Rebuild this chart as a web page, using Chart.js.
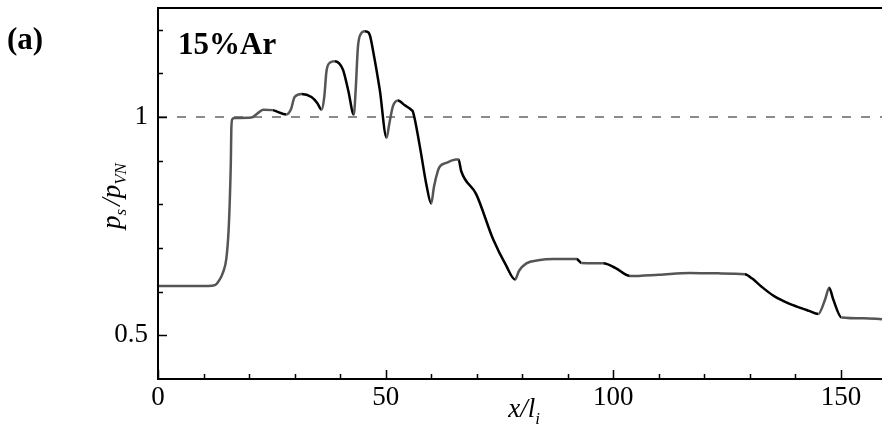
<!DOCTYPE html>
<html lang="en">
<head>
<meta charset="UTF-8">
<title>ps/pVN 15%Ar</title>
<script src="https://cdn.jsdelivr.net/npm/chart.js"></script>
<style>
  html, body { margin: 0; padding: 0; background: #fff; }
  #wrap { position: relative; width: 882px; height: 425px; }
</style>
</head>
<body>
<div id="wrap"><canvas id="psChart" width="882" height="425"></canvas></div>
<script>
// shock pressure along the wall
const xPos = [0, 11, 12.5, 13.5, 14.3, 15.0, 15.5, 15.8, 16.0, 16.1, 16.3, 16.8,
  20.5, 21.8, 23.1, 25.2, 28.2, 29.2, 30.0, 31.5, 33.7, 35.0, 35.9,
  36.5, 37.0, 37.8, 38.8, 40.6, 41.8, 43.0, 43.4, 43.9, 44.5, 45.4, 46.2, 46.6, 47.2,
  48.7, 50.2, 50.8, 51.6, 52.7, 54.2, 55.7, 56.0, 57.5, 59.0, 60.0,
  60.6, 61.5, 61.9, 63.3, 65.5, 66.0, 66.6, 69.9, 73.6, 76.5, 78.4,
  79.3, 80.9, 83.5, 86.8, 91.9, 93.0, 97.8, 100.5, 103.6, 110, 116.8, 123, 128.9,
  130.5, 132.5, 135, 137.5, 140.3, 143, 145, 146.5, 147.4, 148.3, 150.1, 155, 159];
const pRatio = [0.613, 0.613, 0.615, 0.627, 0.645, 0.675, 0.74, 0.82, 0.9, 0.97, 0.995, 0.998,
  0.999, 1.008, 1.017, 1.016, 1.006, 1.018, 1.046, 1.053, 1.046, 1.032, 1.017,
  1.045, 1.105, 1.125, 1.128, 1.109, 1.06, 1.006, 1.06, 1.16, 1.19, 1.197, 1.194, 1.185, 1.154,
  1.063, 0.953, 0.985, 1.025, 1.038, 1.027, 1.016, 1.012, 0.933, 0.842, 0.802,
  0.84, 0.878, 0.887, 0.895, 0.903, 0.903, 0.876, 0.823, 0.72, 0.659, 0.628,
  0.648, 0.665, 0.672, 0.675, 0.675, 0.666, 0.665, 0.654, 0.636, 0.639, 0.643, 0.642, 0.640,
  0.630, 0.612, 0.592, 0.578, 0.566, 0.556, 0.549, 0.582, 0.609, 0.582, 0.541, 0.539, 0.537];

const refX = [0, 159];
const refY = [1, 1];

const xMajor = [0, 50, 100, 150];
const xMajorLabels = ['0', '50', '100', '150'];
const xMinor = [10, 20, 30, 40, 60, 70, 80, 90, 110, 120, 130, 140];
const yMajor = [0.5, 1];
const yMajorLabels = ['0.5', '1'];
const yMinor = [0.6, 0.7, 0.8, 0.9, 1.1, 1.2];

const serif = '"Liberation Serif", "Times New Roman", serif';

function runs(ctx, parts, x, y) {
    // draw text pieces one after another, subscripts shifted down
    let w = 0;
    parts.forEach(p => { ctx.font = p.font; w += ctx.measureText(p.t).width + (p.gap || 0); });
    let cx = x - w / 2;
    parts.forEach(p => {
        ctx.font = p.font;
        ctx.fillText(p.t, cx, y + (p.dy || 0));
        cx += ctx.measureText(p.t).width + (p.gap || 0);
    });
}

const decor = {
    id: 'decor',
    afterDraw(chart) {
        const ctx = chart.ctx;
        const a = chart.chartArea;
        const xs = chart.scales.x, ys = chart.scales.y;
        ctx.save();
        ctx.strokeStyle = '#000';
        ctx.lineWidth = 2;
        ctx.beginPath();
        ctx.moveTo(a.left, a.top); ctx.lineTo(a.right + 2, a.top);
        ctx.moveTo(a.left, a.top - 1); ctx.lineTo(a.left, a.bottom + 1);
        ctx.moveTo(a.left - 1, a.bottom); ctx.lineTo(a.right + 2, a.bottom);
        ctx.stroke();

        ctx.lineWidth = 1.5;
        ctx.beginPath();
        xMajor.concat(xMinor).forEach(v => {
            const px = Math.round(xs.getPixelForValue(v)) + 0.5;
            const len = xMajor.includes(v) ? 9 : 5;
            ctx.moveTo(px, a.bottom); ctx.lineTo(px, a.bottom - len);
        });
        yMajor.concat(yMinor).forEach(v => {
            const py = Math.round(ys.getPixelForValue(v)) + 0.5;
            const len = yMajor.includes(v) ? 9 : 5;
            ctx.moveTo(a.left, py); ctx.lineTo(a.left + len, py);
        });
        ctx.stroke();

        ctx.fillStyle = '#000';
        ctx.textBaseline = 'alphabetic';
        ctx.textAlign = 'left';
        ctx.font = 'bold 31px ' + serif;
        ctx.fillText('(a)', 7, 49);
        ctx.fillText('15%Ar', 178, 54);

        const it = 'italic 27px ' + serif;
        const sub = 'italic 17px ' + serif;
        runs(ctx, [
            { t: 'x/l', font: it },
            { t: 'i', font: sub, dy: 7 }
        ], 524, 417);

        ctx.translate(120, 196);
        ctx.rotate(-Math.PI / 2);
        runs(ctx, [
            { t: 'p', font: it },
            { t: 's', font: sub, dy: 6, gap: 3 },
            { t: '/', font: it },
            { t: 'p', font: it },
            { t: 'VN', font: sub, dy: 6 }
        ], 0, 0);
        ctx.restore();
    }
};

new Chart(document.getElementById('psChart'), {
    type: 'line',
    data: {
        datasets: [{
            data: xPos.map((x, i) => ({ x: x, y: pRatio[i] })),
            borderColor: '#555',
            borderWidth: 2.5,
            pointRadius: 0,
            cubicInterpolationMode: 'monotone',
            segment: {
                borderColor: c => {
                    const dx = c.p1.parsed.x - c.p0.parsed.x;
                    const dy = c.p1.parsed.y - c.p0.parsed.y;
                    return dy / dx < -0.003 ? '#000' : '#555';
                }
            },
            order: 0
        }, {
            data: refX.map((x, i) => ({ x: x, y: refY[i] })),
            borderColor: '#666',
            borderWidth: 1.5,
            borderDash: [9, 10],
            pointRadius: 0,
            order: 1
        }]
    },
    options: {
        responsive: false,
        animation: false,
        layout: { padding: { top: 8, left: 0, right: 0, bottom: 0 } },
        plugins: { legend: { display: false }, tooltip: { enabled: false } },
        scales: {
            x: {
                type: 'linear',
                min: 0,
                max: 159,
                afterBuildTicks: s => { s.ticks = xMajor.map(v => ({ value: v })); },
                afterFit: s => { s.height = 46; s.paddingLeft = 0; s.paddingRight = 0; },
                grid: { display: false, drawTicks: false, tickLength: 0 },
                border: { display: false },
                ticks: {
                    color: '#000',
                    padding: 3,
                    maxRotation: 0,
                    autoSkip: false,
                    font: { family: serif, size: 27 },
                    callback: v => xMajorLabels[xMajor.indexOf(v)]
                }
            },
            y: {
                min: 0.4,
                max: 1.25,
                afterBuildTicks: s => { s.ticks = yMajor.map(v => ({ value: v })); },
                afterFit: s => { s.width = 158; s.paddingTop = 0; s.paddingBottom = 0; },
                grid: { display: false, drawTicks: false, tickLength: 0 },
                border: { display: false },
                ticks: {
                    color: '#000',
                    padding: 10,
                    autoSkip: false,
                    font: { family: serif, size: 27 },
                    callback: v => yMajorLabels[yMajor.indexOf(v)]
                }
            }
        }
    },
    plugins: [decor]
});
</script>
</body>
</html>
